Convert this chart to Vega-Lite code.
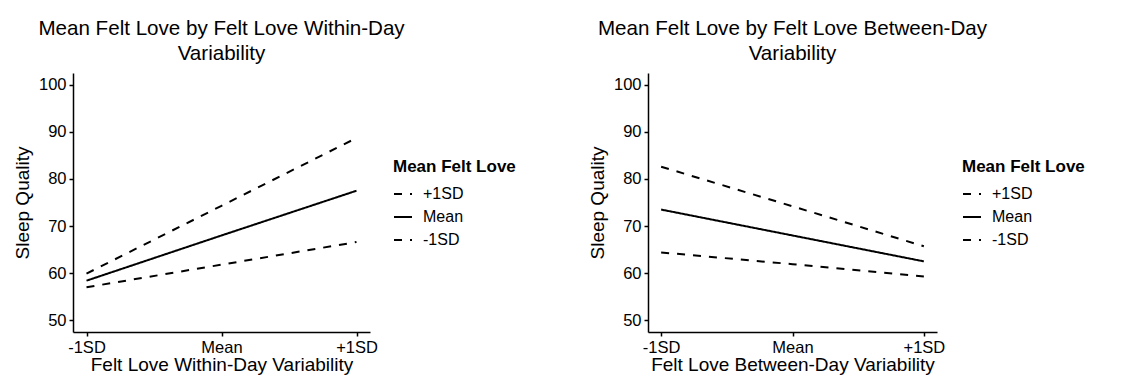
{
  "$schema": "https://vega.github.io/schema/vega-lite/v6.json",
  "background": "white",
  "padding": {"left": 13, "top": 19, "right": 0, "bottom": 0},
  "config": {
    "font": "Liberation Sans",
    "view": {"stroke": null},
    "axis": {
      "grid": false,
      "domainColor": "black",
      "domainWidth": 1.5,
      "tickColor": "black",
      "tickWidth": 1.5,
      "tickSize": 4,
      "labelColor": "black",
      "labelFontSize": 16.5,
      "labelFont": "Liberation Sans",
      "labelPadding": 3,
      "titleColor": "black",
      "titleFontSize": 19,
      "titleFont": "Liberation Sans",
      "titleFontWeight": "normal"
    },
    "legend": {
      "titleFontSize": 17,
      "titleFontWeight": "bold",
      "titleColor": "black",
      "titleFont": "Liberation Sans",
      "labelFontSize": 16,
      "labelColor": "black",
      "labelFont": "Liberation Sans",
      "symbolType": "stroke",
      "symbolSize": 324,
      "symbolStrokeWidth": 2,
      "symbolStrokeColor": "black",
      "titlePadding": 8,
      "rowPadding": 5,
      "labelOffset": 10
    },
    "title": {
      "fontSize": 20.6,
      "font": "Liberation Sans",
      "fontWeight": "normal",
      "color": "black",
      "anchor": "middle",
      "lineHeight": 25,
      "offset": 8
    }
  },
  "resolve": {"scale": {"strokeDash": "independent"}, "legend": {"strokeDash": "independent"}},
  "spacing": 72,
  "hconcat": [
    {
      "width": 297,
      "height": 259,
      "title": {"text": ["Mean Felt Love by Felt Love Within-Day", "Variability"]},
      "data": {"values": [
        {"x": -1, "level": "+1SD", "y": 59.9},
        {"x": 0, "level": "+1SD", "y": 74.3},
        {"x": 1, "level": "+1SD", "y": 88.7},
        {"x": -1, "level": "Mean", "y": 58.4},
        {"x": 0, "level": "Mean", "y": 68.0},
        {"x": 1, "level": "Mean", "y": 77.5},
        {"x": -1, "level": "-1SD", "y": 57.0},
        {"x": 0, "level": "-1SD", "y": 61.8},
        {"x": 1, "level": "-1SD", "y": 66.6}
      ]},
      "mark": {"type": "line", "color": "black", "strokeWidth": 2},
      "encoding": {
        "x": {"field": "x", "type": "quantitative",
              "scale": {"domain": [-1.1, 1.1], "nice": false, "zero": false},
              "axis": {"values": [-1, 0, 1], "title": "Felt Love Within-Day Variability",
                       "labelExpr": "datum.value == -1 ? '-1SD' : datum.value == 0 ? 'Mean' : '+1SD'",
                       "titlePadding": 0}},
        "y": {"field": "y", "type": "quantitative",
              "scale": {"domain": [47.5, 102.5], "nice": false, "zero": false},
              "axis": {"values": [50, 60, 70, 80, 90, 100], "title": "Sleep Quality", "titlePadding": 6}},
        "strokeDash": {"field": "level", "type": "nominal",
              "scale": {"domain": ["+1SD", "Mean", "-1SD"], "range": [[8, 8], [1, 0], [8, 8]]},
              "legend": {"title": "Mean Felt Love", "orient": "none", "legendX": 320, "legendY": 86}},
        "detail": {"field": "level"}
      }
    },
    {
      "width": 289,
      "height": 259,
      "title": {"text": ["Mean Felt Love by Felt Love Between-Day", "Variability"]},
      "data": {"values": [
        {"x": -1, "level": "+1SD", "y": 82.6},
        {"x": 0, "level": "+1SD", "y": 74.2},
        {"x": 1, "level": "+1SD", "y": 65.7},
        {"x": -1, "level": "Mean", "y": 73.5},
        {"x": 0, "level": "Mean", "y": 68.0},
        {"x": 1, "level": "Mean", "y": 62.5},
        {"x": -1, "level": "-1SD", "y": 64.4},
        {"x": 0, "level": "-1SD", "y": 61.9},
        {"x": 1, "level": "-1SD", "y": 59.3}
      ]},
      "mark": {"type": "line", "color": "black", "strokeWidth": 2},
      "encoding": {
        "x": {"field": "x", "type": "quantitative",
              "scale": {"domain": [-1.1, 1.1], "nice": false, "zero": false},
              "axis": {"values": [-1, 0, 1], "title": "Felt Love Between-Day Variability",
                       "labelExpr": "datum.value == -1 ? '-1SD' : datum.value == 0 ? 'Mean' : '+1SD'",
                       "titlePadding": 0}},
        "y": {"field": "y", "type": "quantitative",
              "scale": {"domain": [47.5, 102.5], "nice": false, "zero": false},
              "axis": {"values": [50, 60, 70, 80, 90, 100], "title": "Sleep Quality", "titlePadding": 6}},
        "strokeDash": {"field": "level", "type": "nominal",
              "scale": {"domain": ["+1SD", "Mean", "-1SD"], "range": [[8, 8], [1, 0], [8, 8]]},
              "legend": {"title": "Mean Felt Love", "orient": "none", "legendX": 314, "legendY": 86}},
        "detail": {"field": "level"}
      }
    }
  ]
}
